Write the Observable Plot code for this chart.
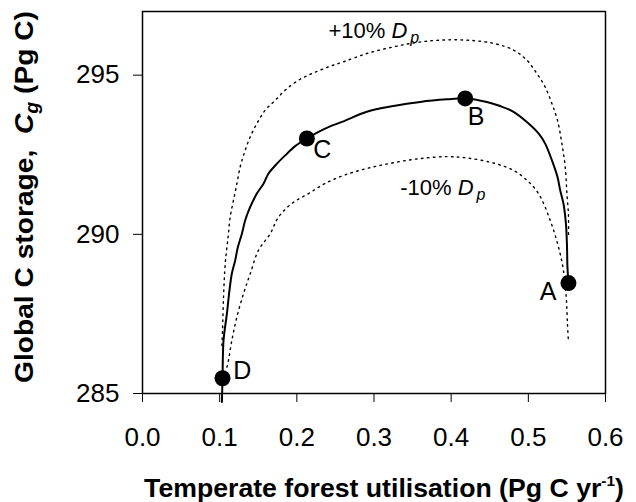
<!DOCTYPE html>
<html><head><meta charset="utf-8">
<script src="https://cdn.jsdelivr.net/npm/d3@7"></script>
<script src="https://cdn.jsdelivr.net/npm/@observablehq/plot@0.6"></script>
<style>body{margin:0;background:#fff}</style>
</head><body><div id="chart"></div>
<script>
// Solid curve (baseline Dp)
const solidX = [0.1029,0.1037,0.1050,0.1094,0.1127,0.1158,0.1201,0.1236,0.1288,0.1331,0.1396,0.1482,0.1568,0.1633,0.1742,0.1849,0.1979,0.2130,0.2281,0.2410,0.2605,0.2908,0.3253,0.3599,0.3945,0.4182,0.4463,0.4635,0.4808,0.4981,0.5132,0.5218,0.5305,0.5378,0.5413,0.5455,0.5487,0.5500,0.5507,0.5520];
const solidY = [284.73,285.48,286.67,287.51,288.24,288.77,289.18,289.60,290.02,290.44,290.86,291.28,291.59,291.91,292.22,292.48,292.77,293.01,293.22,293.37,293.55,293.85,294.03,294.16,294.24,294.27,294.16,294.03,293.85,293.53,293.17,292.85,292.33,291.80,291.38,290.97,290.34,289.71,288.97,288.47];
// +10% Dp dotted curve
const plusX = [0.1029,0.1037,0.1050,0.1072,0.1094,0.1114,0.1136,0.1179,0.1223,0.1266,0.1331,0.1396,0.1482,0.1590,0.1720,0.1849,0.2021,0.2195,0.2410,0.2605,0.2908,0.3253,0.3556,0.3858,0.4204,0.4548,0.4808,0.4981,0.5111,0.5218,0.5305,0.5378,0.5435,0.5478,0.5500,0.5520,0.5520];
const plusY = [286.51,286.98,288.03,289.08,289.60,290.02,290.54,291.07,291.59,292.12,292.64,293.06,293.48,293.90,294.21,294.53,294.84,295.05,295.26,295.42,295.68,295.89,296.03,296.10,296.10,296.00,295.79,295.47,295.05,294.63,294.11,293.58,292.85,292.12,291.28,290.60,289.97];
// -10% Dp dotted curve
const minusX = [0.1094,0.1114,0.1158,0.1223,0.1309,0.1396,0.1503,0.1655,0.1762,0.1936,0.2151,0.2368,0.2605,0.2908,0.3253,0.3599,0.3945,0.4204,0.4548,0.4808,0.4981,0.5132,0.5283,0.5391,0.5455,0.5491,0.5507,0.5520];
const minusY = [285.83,286.04,286.67,287.40,288.14,288.76,289.50,290.02,290.54,290.97,291.28,291.60,291.85,292.07,292.25,292.38,292.44,292.40,292.24,292.01,291.70,291.28,290.44,289.60,288.87,288.03,287.19,286.61];
// Marked points
const pointLabels = ["A","B","C","D"];
const pointX = [0.5520,0.4182,0.2130,0.1037];
const pointY = [288.47,294.27,293.01,285.48];
const labelX = [0.5257,0.4324,0.2329,0.1292];
const labelY = [288.18,293.68,292.64,285.72];
// Curve annotations
const annoMain = ["+10% ","-10% "];
const annoSym = ["D","D"];
const annoSub = ["p","p"];
const annoX = [0.2410,0.3339];
const annoY = [296.16,291.23];
// Axes
const xTicks = [0,0.1,0.2,0.3,0.4,0.5,0.6];
const xTickLabels = ["0.0","0.1","0.2","0.3","0.4","0.5","0.6"];
const yTicks = [285,290,295];
const yTickLabels = ["285","290","295"];

const solid = solidX.map((x,i)=>({x, y: solidY[i]}));
const plus = plusX.map((x,i)=>({x, y: plusY[i]}));
const minus = minusX.map((x,i)=>({x, y: minusY[i]}));
const pts = pointLabels.map((l,i)=>({l, x: pointX[i], y: pointY[i], lx: labelX[i], ly: labelY[i]}));
const annos = annoMain.map((m,i)=>({main:m, sym:annoSym[i], sub:annoSub[i], full:m+annoSym[i]+annoSub[i], x:annoX[i], y:annoY[i]}));

const chart = Plot.plot({
  width: 636, height: 502,
  marginLeft: 142, marginRight: 31, marginTop: 11, marginBottom: 109,
  style: {fontFamily: "'Liberation Sans', Arial, sans-serif", background: "white", color: "black"},
  x: {domain: [0, 0.6]},
  y: {domain: [285, 297]},
  marks: [
    Plot.axisX({ticks: xTicks, tickFormat: d => xTickLabels[xTicks.indexOf(d)], tickSize: 9, tickPadding: 25, fontSize: 26, label: null, stroke: "black", fill: "black"}),
    Plot.axisY({ticks: yTicks, tickFormat: d => yTickLabels[yTicks.indexOf(d)], tickSize: 9, tickPadding: 14, fontSize: 26, label: null, stroke: "black", fill: "black"}),
    Plot.line(plus, {x: "x", y: "y", curve: "catmull-rom", stroke: "black", strokeWidth: 1.4, strokeDasharray: "1.6,4.4"}),
    Plot.line(minus, {x: "x", y: "y", curve: "catmull-rom", stroke: "black", strokeWidth: 1.4, strokeDasharray: "1.6,4.4"}),
    Plot.line(solid, {x: "x", y: "y", curve: "catmull-rom", stroke: "black", strokeWidth: 2}),
    Plot.dot(pts, {x: "x", y: "y", r: 8, fill: "black", stroke: "none"}),
    Plot.text(pts, {x: "lx", y: "ly", text: "l", fontSize: 25, fill: "black", textAnchor: "middle"}),
    Plot.text(annos, {x: "x", y: "y", text: "full", fontSize: 22, fill: "black", textAnchor: "start", lineAnchor: "bottom"}),
    Plot.frame({stroke: "black", strokeWidth: 1.5})
  ]
});
document.getElementById("chart").appendChild(chart);

const svg = d3.select(chart.tagName.toLowerCase() === "svg" ? chart : chart.querySelector("svg"));
svg.selectAll("text").each(function() {
  const a = annos.find(a => a.full === this.textContent);
  if (a) {
    const s = d3.select(this);
    s.text(null);
    s.append("tspan").style("white-space", "pre").text(a.main);
    s.append("tspan").attr("font-style", "italic").text(a.sym);
    s.append("tspan").attr("font-style", "italic").attr("font-size", 16).attr("dx", 3).attr("dy", 5).text(a.sub);
  }
});

// X axis title
const xt = svg.append("text")
  .attr("text-anchor", "middle")
  .attr("font-size", 26).attr("font-weight", "bold").attr("fill", "black")
  .style("white-space", "pre");
xt.append("tspan").text("Temperate forest utilisation (Pg C yr");
xt.append("tspan").attr("font-size", 15).attr("dy", -11).text("-1");
xt.append("tspan").attr("dy", 11).text(")");
{
  const w = xt.node().getBBox().width;
  xt.attr("transform", `translate(384,497) scale(${480 / w},1)`);
}

// Y axis title
const yt = svg.append("text")
  .attr("text-anchor", "middle")
  .attr("font-size", 26).attr("font-weight", "bold").attr("fill", "black")
  .style("white-space", "pre");
yt.append("tspan").text("Global C storage,  ");
yt.append("tspan").attr("font-style", "italic").text("C");
yt.append("tspan").attr("font-style", "italic").attr("font-size", 18).attr("dy", 5).text("g");
yt.append("tspan").attr("dy", -5).text(" (Pg C)");
{
  const w = yt.node().getBBox().width;
  yt.attr("transform", `translate(33,197) rotate(-90) scale(${372 / w},1)`);
}
</script>
</body></html>
